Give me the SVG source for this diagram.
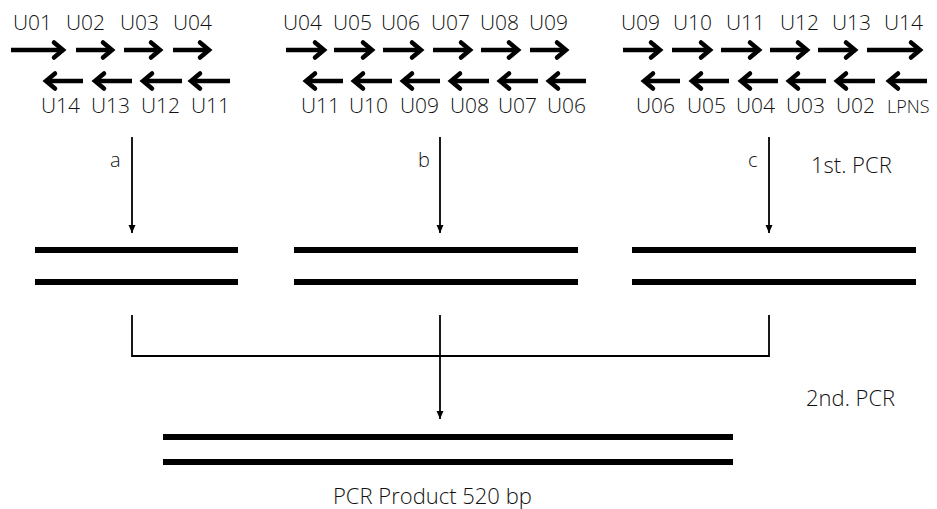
<svg xmlns="http://www.w3.org/2000/svg" width="937" height="509" viewBox="0 0 937 509">
<style>
text{font-family:"Open Sans","Liberation Sans",sans-serif;font-weight:300;fill:#111}
.p{font-size:21px}
.s{font-size:18px}
.lbl{font-size:20px}
.big{font-size:22px}
.pr{stroke:#000;stroke-width:4.5;fill:none;marker-end:url(#chev)}
.bar{fill:#000}
.con{stroke:#000;stroke-width:1.8;fill:none}
.arr{marker-end:url(#tri)}
</style>
<defs>
<marker id="chev" markerUnits="userSpaceOnUse" markerWidth="20" markerHeight="20" refX="9" refY="7.5" orient="auto" overflow="visible">
<path d="M0,0 L9,7.5 L0,15" fill="none" stroke="#000" stroke-width="4.5" stroke-linecap="round"/>
</marker>
<marker id="tri" markerUnits="userSpaceOnUse" markerWidth="10" markerHeight="10" refX="8" refY="3.5" orient="auto" overflow="visible">
<path d="M0,0 L8,3.5 L0,7 Z" fill="#000"/>
</marker>
</defs>

<g id="primers-a">
<text class="p" x="13" y="30">U01</text>
<text class="p" x="66" y="30">U02</text>
<text class="p" x="120" y="30">U03</text>
<text class="p" x="173" y="30">U04</text>
<path class="pr" d="M11,50H63"/>
<path class="pr" d="M76,50H112"/>
<path class="pr" d="M124,50H160"/>
<path class="pr" d="M173,50H209"/>
<path class="pr" d="M83,81H46"/>
<path class="pr" d="M132,81H95"/>
<path class="pr" d="M182,81H143"/>
<path class="pr" d="M230,81H191"/>
<text class="p" x="41" y="113">U14</text>
<text class="p" x="91" y="113">U13</text>
<text class="p" x="141" y="113">U12</text>
<text class="p" x="191" y="113">U11</text>
</g>

<g id="primers-b">
<text class="p" x="283" y="30">U04</text>
<text class="p" x="333" y="30">U05</text>
<text class="p" x="381" y="30">U06</text>
<text class="p" x="431" y="30">U07</text>
<text class="p" x="480" y="30">U08</text>
<text class="p" x="529" y="30">U09</text>
<path class="pr" d="M286,50H324"/>
<path class="pr" d="M334,50H372"/>
<path class="pr" d="M383,50H421"/>
<path class="pr" d="M433,50H470"/>
<path class="pr" d="M481,50H518"/>
<path class="pr" d="M530,50H566"/>
<path class="pr" d="M343,81H306"/>
<path class="pr" d="M392,81H354"/>
<path class="pr" d="M440,81H403"/>
<path class="pr" d="M489,81H451"/>
<path class="pr" d="M538,81H500"/>
<path class="pr" d="M586,81H549"/>
<text class="p" x="301" y="113">U11</text>
<text class="p" x="349" y="113">U10</text>
<text class="p" x="400" y="113">U09</text>
<text class="p" x="450" y="113">U08</text>
<text class="p" x="498" y="113">U07</text>
<text class="p" x="547" y="113">U06</text>
</g>

<g id="primers-c">
<text class="p" x="621" y="30">U09</text>
<text class="p" x="673" y="30">U10</text>
<text class="p" x="726" y="30">U11</text>
<text class="p" x="780" y="30">U12</text>
<text class="p" x="832" y="30">U13</text>
<text class="p" x="884" y="30">U14</text>
<path class="pr" d="M623,50H660"/>
<path class="pr" d="M672,50H710"/>
<path class="pr" d="M721,50H759"/>
<path class="pr" d="M770,50H807"/>
<path class="pr" d="M818,50H855"/>
<path class="pr" d="M867,50H920"/>
<path class="pr" d="M680,81H644"/>
<path class="pr" d="M729,81H692"/>
<path class="pr" d="M778,81H741"/>
<path class="pr" d="M826,81H789"/>
<path class="pr" d="M875,81H837"/>
<path class="pr" d="M927,81H889"/>
<text class="p" x="636" y="113">U06</text>
<text class="p" x="687" y="113">U05</text>
<text class="p" x="736" y="113">U04</text>
<text class="p" x="786" y="113">U03</text>
<text class="p" x="836" y="113">U02</text>
<text class="s" x="887" y="113">LPNS</text>
</g>

<g id="fragment-a">
<rect class="bar" x="35" y="247" width="203" height="6"/>
<rect class="bar" x="35" y="279" width="203" height="6"/>
</g>
<g id="fragment-b">
<rect class="bar" x="294" y="247" width="284" height="6"/>
<rect class="bar" x="294" y="279" width="284" height="6"/>
</g>
<g id="fragment-c">
<rect class="bar" x="632" y="247" width="284" height="6"/>
<rect class="bar" x="632" y="279" width="284" height="6"/>
</g>
<g id="product">
<rect class="bar" x="163" y="434" width="570" height="6"/>
<rect class="bar" x="163" y="459" width="570" height="6"/>
<text class="big" x="333" y="504">PCR Product 520 bp</text>
</g>

<g id="step-labels">
<text class="big" x="811" y="173">1st. PCR</text>
<text class="big" x="806" y="406">2nd. PCR</text>
</g>

<g id="connectors">
<path class="con arr" d="M132,137V233"/>
<path class="con arr" d="M440,137V233"/>
<path class="con arr" d="M769,137V233"/>
<text class="lbl" x="110" y="167">a</text>
<text class="lbl" x="418" y="167">b</text>
<text class="lbl" x="748" y="167">c</text>
<path class="con" d="M132,315V356H769V315"/>
<path class="con arr" d="M440,315V419"/>
</g>
</svg>
